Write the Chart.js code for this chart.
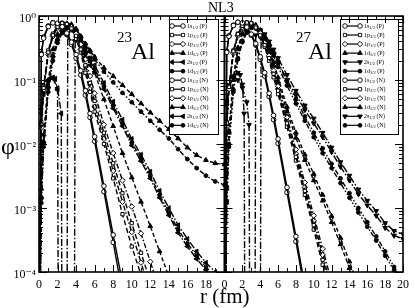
<!DOCTYPE html>
<html>
<head>
<meta charset="utf-8">
<script src="https://cdn.jsdelivr.net/npm/chart.js@4.4.1/dist/chart.umd.min.js"></script>
<style>
  html, body { margin: 0; padding: 0; background: #fff; }
  #fig { position: relative; width: 415px; height: 308px; overflow: hidden; font-family: "Liberation Serif", "DejaVu Serif", serif; color: #000; }
  #fig canvas { position: absolute; top: 0; }
  .txt { position: absolute; line-height: 1; white-space: nowrap; }
  .leg { position: absolute; font-size: 6px; line-height: 1; white-space: nowrap; }
  .leg sub { font-size: 4.5px; vertical-align: -1px; }
</style>
</head>
<body>
<div id="fig">
  <canvas id="chartAl23" width="240" height="308" style="left:0;width:240px;height:308px"></canvas>
  <canvas id="chartAl27" width="205" height="308" style="left:210px;width:205px;height:308px"></canvas>
  <div class="txt" style="left:208px;top:1px;font-size:14px">NL3</div>
  <div class="txt" style="left:1px;top:134px;font-size:24px">φ</div>
  <div class="txt" style="left:200px;top:286px;font-size:21px">r (fm)</div>
  <div class="txt" style="left:117px;top:30px;font-size:15px">23</div>
  <div class="txt" style="left:131px;top:39px;font-size:24px">Al</div>
  <div class="txt" style="left:296px;top:30px;font-size:15px">27</div>
  <div class="txt" style="left:308px;top:39px;font-size:24px">Al</div>
</div>
<script>
// orbitals in legend order (protons first, then neutrons)
const orbitalLabels = ["1s", "1p", "1p", "1d", "2s", "1d"];
const orbitalJ = ["1/2", "3/2", "1/2", "5/2", "1/2", "3/2"];
const nucleonTags = ["P", "N"];

const xMajorTicks = [0, 2, 4, 6, 8, 10, 12, 14, 16, 18, 20];
const xMinorTicks = [1, 3, 5, 7, 9, 11, 13, 15, 17, 19];
const yDecades = [1e-4, 1e-3, 1e-2, 1e-1, 1];
const yDecadeLabels = ["10⁻⁴", "10⁻³", "10⁻²", "10⁻¹", "10⁰"];
const yMinorFactors = [2, 3, 4, 5, 6, 7, 8, 9];

// 23Al, [r (fm), phi]
const al23_1s_p = [[0,1e-6],[0.25,0.25],[0.5,0.45],[1,0.68],[1.5,0.78],[2,0.77],[2.5,0.68],[3,0.54],[3.5,0.39],[4,0.25],[4.5,0.14],[5,0.068],[5.5,0.03],[6,0.013],[7,2.2e-3],[8,3.8e-4],[9,6.8e-5],[10,1.2e-5]];
const al23_1p32_p = [[0,1e-6],[0.25,0.02],[0.5,0.075],[1,0.27],[1.5,0.5],[2,0.68],[2.5,0.77],[3,0.75],[3.5,0.64],[4,0.49],[4.5,0.3],[5,0.17],[5.5,0.09],[6,0.047],[7,0.015],[8,5e-3],[9,1.7e-3],[10,5.8e-4],[11,2e-4],[12,7e-5],[13,2.5e-5]];
const al23_1p12_p = [[0,1e-6],[0.25,0.018],[0.5,0.07],[1,0.25],[1.5,0.48],[2,0.66],[2.5,0.76],[3,0.76],[3.5,0.67],[4,0.53],[4.5,0.36],[5,0.21],[5.5,0.115],[6,0.062],[7,0.02],[8,7.2e-3],[9,2.7e-3],[10,1.05e-3],[11,4e-4],[12,1.45e-4],[13,5.2e-5]];
const al23_1d52_p = [[0,1e-6],[0.25,0.0015],[0.5,0.011],[1,0.08],[1.5,0.24],[2,0.44],[2.5,0.6],[3,0.69],[3.5,0.7],[4,0.62],[4.5,0.48],[5,0.37],[5.5,0.29],[6,0.23],[7,0.155],[8,0.115],[9,0.083],[10,0.06],[11,0.043],[12,0.031],[13,0.023],[14,0.017],[15,0.0122],[16,0.0088],[17,0.0067],[18,0.0056],[19,0.005],[20,0.0048]];
const al23_2s_p = [[0,1e-6],[0.25,0.03],[0.5,0.06],[1,0.095],[1.5,0.11],[1.75,0.105],[2,0.07],[2.1,1e-6],[3,1e-6],[3.1,0.5],[3.5,0.62],[4,0.56],[4.5,0.42],[5,0.29],[5.5,0.22],[6,0.17],[7,0.09],[8,0.046],[9,0.024],[10,0.012],[11,6.8e-3],[12,3.7e-3],[13,1.85e-3],[14,1e-3],[15,5.4e-4],[16,3.3e-4],[17,2.1e-4],[18,1.4e-4],[19,1e-4],[20,8.2e-5]];
const al23_1d32_p = [[0,1e-6],[0.25,0.0012],[0.5,0.009],[1,0.065],[1.5,0.2],[2,0.38],[2.5,0.54],[3,0.64],[3.5,0.66],[4,0.6],[4.5,0.47],[5,0.36],[5.5,0.28],[6,0.21],[7,0.135],[8,0.092],[9,0.063],[10,0.045],[11,0.032],[12,0.023],[13,0.0167],[14,0.0122],[15,0.0083],[16,0.0058],[17,0.0042],[18,0.0032],[19,0.0026],[20,0.0023]];
const al23_1s_n = [[0,1e-6],[0.25,0.26],[0.5,0.47],[1,0.7],[1.5,0.79],[2,0.76],[2.5,0.66],[3,0.51],[3.5,0.36],[4,0.22],[4.5,0.12],[5,0.058],[5.5,0.026],[6,0.011],[7,1.8e-3],[8,2.9e-4],[9,4.6e-5]];
const al23_1p32_n = [[0,1e-6],[0.25,0.022],[0.5,0.08],[1,0.29],[1.5,0.53],[2,0.71],[2.5,0.78],[3,0.74],[3.5,0.6],[4,0.44],[4.5,0.27],[5,0.13],[5.5,0.065],[6,0.032],[7,0.01],[8,2.9e-3],[9,8e-4],[10,2.5e-4],[11,9e-5],[12,3.3e-5]];
const al23_1p12_n = [[0,1e-6],[0.25,0.02],[0.5,0.075],[1,0.27],[1.5,0.51],[2,0.69],[2.5,0.77],[3,0.75],[3.5,0.63],[4,0.47],[4.5,0.3],[5,0.14],[5.5,0.072],[6,0.038],[7,0.012],[8,3.8e-3],[9,1.25e-3],[10,4.2e-4],[11,1.4e-4],[12,4.8e-5]];
const al23_1d52_n = [[0,1e-6],[0.25,0.002],[0.5,0.014],[1,0.1],[1.5,0.3],[2,0.52],[2.5,0.68],[3,0.76],[3.5,0.74],[4,0.63],[4.5,0.48],[5,0.33],[5.5,0.21],[6,0.13],[7,0.05],[8,0.019],[9,7.2e-3],[10,3e-3],[11,1.25e-3],[12,5.2e-4],[13,2.1e-4],[14,8.5e-5],[15,3.5e-5]];
const al23_2s_n = [[0,1e-6],[0.25,0.035],[0.5,0.065],[1,0.1],[1.5,0.105],[2,0.075],[2.4,0.03],[2.5,1e-6],[3.8,1e-6],[3.9,0.42],[4.5,0.36],[5,0.23],[5.5,0.17],[6,0.135],[7,0.072],[8,0.036],[9,0.019],[10,9.5e-3],[11,5.4e-3],[12,2.9e-3],[13,1.45e-3],[14,7.7e-4],[15,4.1e-4],[16,2.5e-4],[17,1.6e-4],[18,1.08e-4],[19,7.7e-5],[20,6.3e-5]];
const al23_1d32_n = [[0,1e-6],[0.25,0.0014],[0.5,0.01],[1,0.075],[1.5,0.23],[2,0.42],[2.5,0.58],[3,0.68],[3.5,0.68],[4,0.58],[4.5,0.4],[5,0.26],[5.5,0.2],[6,0.15],[7,0.08],[8,0.04],[9,0.021],[10,0.0105],[11,6e-3],[12,3.2e-3],[13,1.6e-3],[14,8.5e-4],[15,4.6e-4],[16,2.8e-4],[17,1.8e-4],[18,1.2e-4],[19,8.5e-5],[20,7e-5]];

// 27Al, [r (fm), phi]
const al27_1s_p = [[0,1e-6],[0.25,0.27],[0.5,0.48],[1,0.71],[1.5,0.8],[2,0.78],[2.5,0.67],[3,0.52],[3.5,0.37],[4,0.23],[4.5,0.13],[5,0.062],[5.5,0.028],[6,0.012],[7,2.1e-3],[8,3.6e-4],[9,6.2e-5]];
const al27_1p32_p = [[0,1e-6],[0.25,0.021],[0.5,0.078],[1,0.28],[1.5,0.52],[2,0.7],[2.5,0.79],[3,0.77],[3.5,0.66],[4,0.5],[4.5,0.35],[5,0.22],[5.5,0.125],[6,0.068],[7,0.021],[8,6.3e-3],[9,1.85e-3],[10,5.4e-4],[11,1.55e-4],[12,4.5e-5]];
const al27_1p12_p = [[0,1e-6],[0.25,0.019],[0.5,0.072],[1,0.26],[1.5,0.49],[2,0.67],[2.5,0.77],[3,0.77],[3.5,0.68],[4,0.54],[4.5,0.38],[5,0.24],[5.5,0.14],[6,0.08],[7,0.026],[8,8.2e-3],[9,2.5e-3],[10,7.6e-4],[11,2.3e-4],[12,7e-5]];
const al27_1d52_p = [[0,1e-6],[0.25,0.002],[0.5,0.015],[1,0.1],[1.5,0.3],[2,0.52],[2.5,0.68],[3,0.75],[3.5,0.72],[4,0.6],[4.5,0.45],[5,0.3],[5.5,0.19],[6,0.11],[7,0.038],[8,0.015],[9,6.8e-3],[10,3.4e-3],[11,1.6e-3],[12,7.5e-4],[13,3.4e-4],[14,1.45e-4],[15,6e-5]];
const al27_2s_p = [[0,1e-6],[0.25,0.04],[0.5,0.075],[1,0.115],[1.5,0.13],[1.75,0.12],[2,0.085],[2.2,0.03],[2.3,1e-6],[3.4,1e-6],[3.5,0.5],[4,0.6],[4.5,0.52],[5,0.4],[5.5,0.3],[6,0.22],[7,0.12],[8,0.068],[9,0.04],[10,0.025],[11,0.015],[12,8.8e-3],[13,5.2e-3],[14,3.2e-3],[15,1.95e-3],[16,1.3e-3],[17,9e-4],[18,5.8e-4],[19,4.4e-4],[20,3.9e-4]];
const al27_1d32_p = [[0,1e-6],[0.25,0.0013],[0.5,0.01],[1,0.07],[1.5,0.22],[2,0.41],[2.5,0.57],[3,0.67],[3.5,0.68],[4,0.6],[4.5,0.48],[5,0.36],[5.5,0.26],[6,0.185],[7,0.095],[8,0.05],[9,0.027],[10,0.015],[11,8.5e-3],[12,4.9e-3],[13,2.9e-3],[14,1.7e-3],[15,1e-3],[16,6e-4],[17,3.6e-4],[18,2.1e-4],[19,1.2e-4],[20,7.5e-5]];
const al27_1s_n = [[0,1e-6],[0.25,0.28],[0.5,0.49],[1,0.72],[1.5,0.8],[2,0.77],[2.5,0.65],[3,0.5],[3.5,0.35],[4,0.21],[4.5,0.115],[5,0.055],[5.5,0.024],[6,0.0102],[7,1.75e-3],[8,3e-4],[9,5e-5]];
const al27_1p32_n = [[0,1e-6],[0.25,0.022],[0.5,0.08],[1,0.29],[1.5,0.53],[2,0.71],[2.5,0.79],[3,0.76],[3.5,0.64],[4,0.48],[4.5,0.33],[5,0.2],[5.5,0.11],[6,0.06],[7,0.0185],[8,5.5e-3],[9,1.6e-3],[10,4.6e-4],[11,1.3e-4],[12,3.8e-5]];
const al27_1p12_n = [[0,1e-6],[0.25,0.02],[0.5,0.075],[1,0.27],[1.5,0.5],[2,0.69],[2.5,0.78],[3,0.77],[3.5,0.66],[4,0.51],[4.5,0.36],[5,0.23],[5.5,0.13],[6,0.072],[7,0.023],[8,7e-3],[9,2.1e-3],[10,6.3e-4],[11,1.85e-4],[12,5.5e-5]];
const al27_1d52_n = [[0,1e-6],[0.25,0.0022],[0.5,0.016],[1,0.11],[1.5,0.32],[2,0.54],[2.5,0.7],[3,0.76],[3.5,0.71],[4,0.58],[4.5,0.42],[5,0.27],[5.5,0.17],[6,0.095],[7,0.032],[8,0.0125],[9,5.6e-3],[10,2.7e-3],[11,1.3e-3],[12,6e-4],[13,2.7e-4],[14,1.15e-4],[15,4.8e-5]];
const al27_2s_n = [[0,1e-6],[0.25,0.045],[0.5,0.08],[1,0.11],[1.5,0.1],[2,0.075],[2.5,0.045],[2.75,0.02],[2.85,1e-6],[4,1e-6],[4.1,0.45],[4.5,0.44],[5,0.34],[5.5,0.26],[6,0.19],[7,0.1],[8,0.058],[9,0.034],[10,0.021],[11,0.0128],[12,7.5e-3],[13,4.4e-3],[14,2.7e-3],[15,1.65e-3],[16,1.1e-3],[17,7.6e-4],[18,4.9e-4],[19,3.7e-4],[20,3.3e-4]];
const al27_1d32_n = [[0,1e-6],[0.25,0.0012],[0.5,0.009],[1,0.065],[1.5,0.21],[2,0.39],[2.5,0.55],[3,0.65],[3.5,0.66],[4,0.58],[4.5,0.46],[5,0.34],[5.5,0.24],[6,0.16],[7,0.082],[8,0.043],[9,0.023],[10,0.0128],[11,7.2e-3],[12,4.2e-3],[13,2.45e-3],[14,1.45e-3],[15,8.5e-4],[16,5.1e-4],[17,3.1e-4],[18,1.8e-4],[19,1.05e-4],[20,6.4e-5]];

const al23Series = [al23_1s_p, al23_1p32_p, al23_1p12_p, al23_1d52_p, al23_2s_p, al23_1d32_p,
                    al23_1s_n, al23_1p32_n, al23_1p12_n, al23_1d52_n, al23_2s_n, al23_1d32_n];
const al27Series = [al27_1s_p, al27_1p32_p, al27_1p12_p, al27_1d52_p, al27_2s_p, al27_1d32_p,
                    al27_1s_n, al27_1p32_n, al27_1p12_n, al27_1d52_n, al27_2s_n, al27_1d32_n];

// styles per orbital
const lineDashes = [[], [5, 3], [5, 2, 1.5, 2], [4, 2.5], [7, 2, 1.5, 2], [5, 2, 1.5, 2, 1.5, 2]];
const markerStyles = ["circle", "rect", "rectRot", "triangle", "triangle", "circle"];
const markerFilled = [false, false, false, true, true, true];
const markerSizes = [2.3, 2.3, 2.7, 2.7, 2.7, 1.9];

function makeDatasets(series, twoSRotation) {
  return series.map((pts, i) => {
    const k = i % 6;
    return {
      label: orbitalLabels[k] + orbitalJ[k] + " (" + nucleonTags[Math.floor(i / 6)] + ")",
      data: pts.map(([r, v]) => ({ x: r, y: v })),
      borderColor: "#000",
      borderWidth: 1.4,
      borderDash: lineDashes[k],
      tension: 0,
      fill: false,
      pointStyle: markerStyles[k],
      pointRotation: k === 4 ? twoSRotation : 0,
      pointRadius: markerSizes[k],
      pointBackgroundColor: markerFilled[k] ? "#000" : "#fff",
      pointBorderColor: "#000",
      pointBorderWidth: 1,
    };
  });
}

// white legend box with line samples (drawn over the curves)
const boxLegend = {
  id: "boxLegend",
  afterDatasetsDraw(chart, args, opts) {
    const ctx = chart.ctx;
    ctx.save();
    ctx.fillStyle = "#fff";
    ctx.fillRect(opts.left, opts.top, opts.width, opts.height);
    ctx.strokeStyle = "#000";
    ctx.lineWidth = 1;
    ctx.strokeRect(opts.left + 0.5, opts.top + 0.5, opts.width, opts.height);
    chart.data.datasets.forEach((ds, i) => {
      const yy = opts.rowTop + i * opts.rowStep;
      ctx.setLineDash([]);
      ctx.lineWidth = 1.2;
      ctx.beginPath();
      ctx.moveTo(opts.x0, yy);
      ctx.lineTo(opts.x1, yy);
      ctx.stroke();
      ctx.fillStyle = ds.pointBackgroundColor;
      ctx.lineWidth = 0.9;
      [opts.x0, opts.x1].forEach((px) => {
        Chart.helpers.drawPoint(ctx, { pointStyle: ds.pointStyle, rotation: ds.pointRotation, radius: ds.pointRadius, borderWidth: 0.9 }, px, yy);
      });
    });
    ctx.restore();
  },
};

// inward ticks on all four sides plus the frame
const frameTicks = {
  id: "frameTicks",
  afterDraw(chart) {
    const { ctx, chartArea: a } = chart;
    const x = chart.scales.x;
    const y = chart.scales.y;
    ctx.save();
    ctx.strokeStyle = "#000";
    ctx.lineWidth = 1;
    ctx.beginPath();
    const xt = (v, len) => {
      const px = Math.round(x.getPixelForValue(v)) + 0.5;
      ctx.moveTo(px, a.bottom); ctx.lineTo(px, a.bottom - len);
      ctx.moveTo(px, a.top); ctx.lineTo(px, a.top + len);
    };
    const yt = (v, len) => {
      const py = Math.round(y.getPixelForValue(v)) + 0.5;
      ctx.moveTo(a.left, py); ctx.lineTo(a.left + len, py);
      ctx.moveTo(a.right, py); ctx.lineTo(a.right - len, py);
    };
    xMajorTicks.forEach((v) => xt(v, 7));
    xMinorTicks.forEach((v) => xt(v, 4));
    yDecades.forEach((v) => yt(v, 8));
    yDecades.slice(0, -1).forEach((d) => yMinorFactors.forEach((f) => yt(d * f, 4)));
    ctx.stroke();
    ctx.lineWidth = 1.6;
    ctx.strokeRect(a.left, a.top, a.right - a.left, a.bottom - a.top);
    ctx.restore();
  },
};

const tickFont = { family: "'Liberation Serif', 'DejaVu Serif', serif", size: 12 };

function makeChart(canvasId, series, twoSRotation, padding, yAxisWidth, hideLastX, legendBox) {
  return new Chart(document.getElementById(canvasId), {
    type: "line",
    data: { datasets: makeDatasets(series, twoSRotation) },
    plugins: [boxLegend, frameTicks],
    options: {
      responsive: false,
      animation: false,
      devicePixelRatio: 1,
      events: [],
      layout: { padding },
      plugins: { legend: { display: false }, tooltip: { enabled: false }, boxLegend: legendBox },
      scales: {
        x: {
          type: "linear",
          min: 0,
          max: 20,
          afterBuildTicks: (s) => { s.ticks = xMajorTicks.map((v) => ({ value: v })); },
          afterFit: (s) => { s.height = 36; },
          grid: { display: false, drawTicks: false },
          border: { display: false },
          ticks: {
            color: "#000",
            font: tickFont,
            padding: 6,
            maxRotation: 0,
            autoSkip: false,
            callback: (v) => (hideLastX && v === 20 ? "" : String(v)),
          },
        },
        y: {
          type: "logarithmic",
          min: 1e-4,
          max: 1,
          afterBuildTicks: (s) => { s.ticks = yDecades.map((v) => ({ value: v })); },
          afterFit: (s) => { s.width = yAxisWidth; },
          grid: { display: false, drawTicks: false },
          border: { display: false },
          ticks: {
            display: yAxisWidth > 0,
            color: "#000",
            font: tickFont,
            padding: 3,
            labelOffset: 3,
            autoSkip: false,
            callback: (v) => yDecadeLabels[yDecades.indexOf(v)] || "",
          },
        },
      },
    },
  });
}

// left panel: plot area x 39..224.5 ; right panel: 224.5..406.5 (page px)
makeChart("chartAl23", al23Series, 270, { left: 0, right: 15.5, top: 16, bottom: 0 }, 39, true,
  { left: 169, top: 19, width: 49, height: 115, x0: 172, x1: 183, rowTop: 26, rowStep: 9.03 });
makeChart("chartAl27", al27Series, 180, { left: 14.5, right: 8.5, top: 16, bottom: 0 }, 0, false,
  { left: 130, top: 19, width: 58, height: 115, x0: 135, x1: 150, rowTop: 26, rowStep: 9.03 });

// legend texts
const fig = document.getElementById("fig");
[187, 364].forEach((textX) => {
  for (let i = 0; i < 12; i++) {
    const k = i % 6;
    const el = document.createElement("div");
    el.className = "leg";
    el.style.left = textX + "px";
    el.style.top = (26 + i * 9.03 - 3.5) + "px";
    el.innerHTML = orbitalLabels[k] + "<sub>" + orbitalJ[k] + "</sub> (" + nucleonTags[Math.floor(i / 6)] + ")";
    fig.appendChild(el);
  }
});
</script>
</body>
</html>
